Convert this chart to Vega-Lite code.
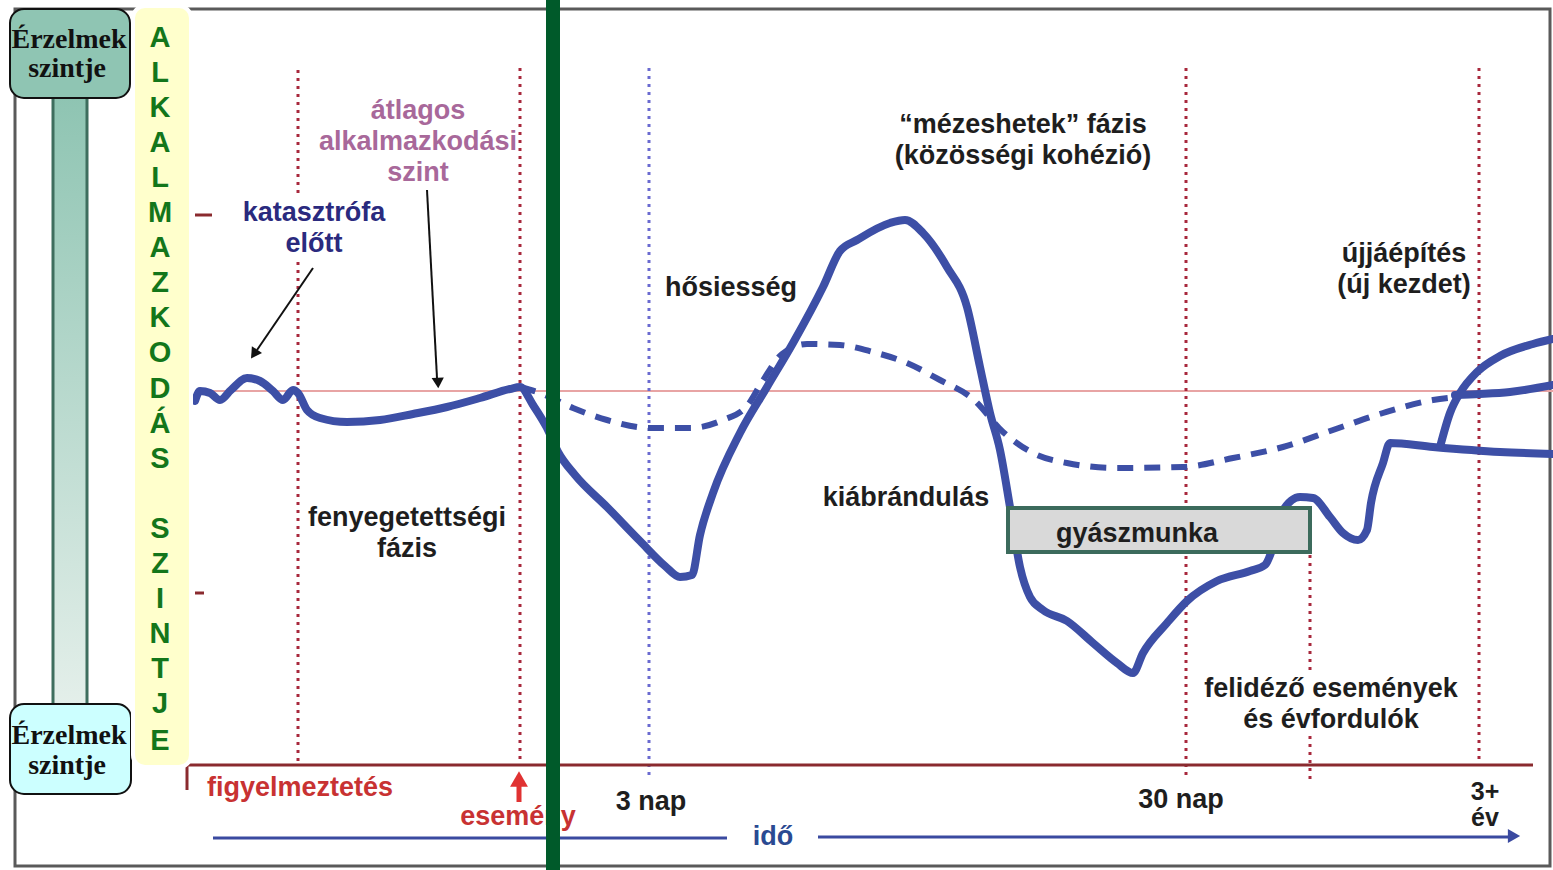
{
  "$schema": "https://vega.github.io/schema/vega-lite/v6.json",
  "width": 1553,
  "height": 870,
  "padding": 0,
  "autosize": "none",
  "background": "white",
  "config": {"view": {"stroke": null}},
  "encoding": {
    "x": {"field": "x", "type": "quantitative", "scale": {"domain": [0, 1553], "nice": false, "zero": false}, "axis": null},
    "y": {"field": "y", "type": "quantitative", "scale": {"domain": [0, 870], "nice": false, "zero": false, "reverse": true}, "axis": null}
  },
  "layer": [
    {
      "data": {"values": [{"x": 15, "x2": 1550, "y": 9, "y2": 866}]},
      "mark": {"type": "rect", "fill": null, "stroke": "#5a5a5a", "strokeWidth": 3},
      "encoding": {"x2": {"field": "x2"}, "y2": {"field": "y2"}}
    },
    {
      "data": {"values": [{"x": 195, "x2": 1553, "y": 391}]},
      "mark": {"type": "rule", "color": "#e8a4a4", "strokeWidth": 2},
      "encoding": {"x2": {"field": "x2"}}
    },
    {
      "data": {"values": [
        {"x": 298, "y": 70, "y2": 194},
        {"x": 298, "y": 262, "y2": 765},
        {"x": 520, "y": 68, "y2": 765},
        {"x": 1186, "y": 68, "y2": 775},
        {"x": 1310, "y": 555, "y2": 672},
        {"x": 1310, "y": 736, "y2": 780},
        {"x": 1479, "y": 68, "y2": 765}
      ]},
      "mark": {"type": "rule", "color": "#a8283c", "strokeWidth": 3, "strokeDash": [3, 5]},
      "encoding": {"y2": {"field": "y2"}}
    },
    {
      "data": {"values": [{"x": 649, "y": 68, "y2": 780}]},
      "mark": {"type": "rule", "color": "#6a6ad0", "strokeWidth": 3, "strokeDash": [3, 5]},
      "encoding": {"y2": {"field": "y2"}}
    },
    {
      "data": {"values": [
        {"x": 187, "x2": 1533, "y": 765, "y2": 765},
        {"x": 187, "x2": 187, "y": 765, "y2": 790},
        {"x": 195, "x2": 212, "y": 215, "y2": 215},
        {"x": 195, "x2": 204, "y": 593, "y2": 593}
      ]},
      "mark": {"type": "rule", "color": "#8a2a2e", "strokeWidth": 3},
      "encoding": {"x2": {"field": "x2"}, "y2": {"field": "y2"}}
    },
    {
      "data": {"values": [
        {"s": "dash", "i": 1, "x": 520, "y": 387},
        {"s": "dash", "i": 2, "x": 540, "y": 393},
        {"s": "dash", "i": 3, "x": 573, "y": 408},
        {"s": "dash", "i": 4, "x": 607, "y": 420},
        {"s": "dash", "i": 5, "x": 650, "y": 428},
        {"s": "dash", "i": 6, "x": 690, "y": 428},
        {"s": "dash", "i": 7, "x": 723, "y": 420},
        {"s": "dash", "i": 8, "x": 747, "y": 406},
        {"s": "dash", "i": 9, "x": 762, "y": 382},
        {"s": "dash", "i": 10, "x": 782, "y": 354},
        {"s": "dash", "i": 11, "x": 807, "y": 344},
        {"s": "dash", "i": 12, "x": 840, "y": 345},
        {"s": "dash", "i": 13, "x": 873, "y": 352},
        {"s": "dash", "i": 14, "x": 907, "y": 363},
        {"s": "dash", "i": 15, "x": 940, "y": 380},
        {"s": "dash", "i": 16, "x": 973, "y": 399},
        {"s": "dash", "i": 17, "x": 1003, "y": 432},
        {"s": "dash", "i": 18, "x": 1035, "y": 454},
        {"s": "dash", "i": 19, "x": 1067, "y": 463},
        {"s": "dash", "i": 20, "x": 1117, "y": 468},
        {"s": "dash", "i": 21, "x": 1183, "y": 467},
        {"s": "dash", "i": 22, "x": 1233, "y": 458},
        {"s": "dash", "i": 23, "x": 1283, "y": 447},
        {"s": "dash", "i": 24, "x": 1333, "y": 430},
        {"s": "dash", "i": 25, "x": 1383, "y": 413},
        {"s": "dash", "i": 26, "x": 1433, "y": 400},
        {"s": "dash", "i": 27, "x": 1457, "y": 397}
      ]},
      "mark": {"type": "line", "color": "#3d4fa6", "strokeWidth": 6, "strokeDash": [16, 11], "interpolate": "monotone"},
      "encoding": {"detail": {"field": "s"}, "order": {"field": "i", "type": "quantitative"}}
    },
    {
      "data": {"values": [
        {"s": "main", "i": 1, "x": 195, "y": 401},
        {"s": "main", "i": 2, "x": 200, "y": 391},
        {"s": "main", "i": 3, "x": 210, "y": 393},
        {"s": "main", "i": 4, "x": 220, "y": 400},
        {"s": "main", "i": 5, "x": 231, "y": 390},
        {"s": "main", "i": 6, "x": 247, "y": 378},
        {"s": "main", "i": 7, "x": 260, "y": 381},
        {"s": "main", "i": 8, "x": 273, "y": 391},
        {"s": "main", "i": 9, "x": 283, "y": 400},
        {"s": "main", "i": 10, "x": 293, "y": 390},
        {"s": "main", "i": 11, "x": 298, "y": 393},
        {"s": "main", "i": 12, "x": 307, "y": 410},
        {"s": "main", "i": 13, "x": 320, "y": 418},
        {"s": "main", "i": 14, "x": 347, "y": 422},
        {"s": "main", "i": 15, "x": 380, "y": 420},
        {"s": "main", "i": 16, "x": 413, "y": 414},
        {"s": "main", "i": 17, "x": 447, "y": 407},
        {"s": "main", "i": 18, "x": 480, "y": 398},
        {"s": "main", "i": 19, "x": 510, "y": 389},
        {"s": "main", "i": 20, "x": 520, "y": 387},
        {"s": "main", "i": 21, "x": 533, "y": 405},
        {"s": "main", "i": 22, "x": 547, "y": 428},
        {"s": "main", "i": 23, "x": 558, "y": 452},
        {"s": "main", "i": 24, "x": 575, "y": 475},
        {"s": "main", "i": 25, "x": 607, "y": 507},
        {"s": "main", "i": 26, "x": 640, "y": 541},
        {"s": "main", "i": 27, "x": 665, "y": 566},
        {"s": "main", "i": 28, "x": 680, "y": 577},
        {"s": "main", "i": 29, "x": 692, "y": 575},
        {"s": "main", "i": 30, "x": 700, "y": 535},
        {"s": "main", "i": 31, "x": 713, "y": 493},
        {"s": "main", "i": 32, "x": 740, "y": 433},
        {"s": "main", "i": 33, "x": 767, "y": 387},
        {"s": "main", "i": 34, "x": 793, "y": 343},
        {"s": "main", "i": 35, "x": 823, "y": 287},
        {"s": "main", "i": 36, "x": 840, "y": 251},
        {"s": "main", "i": 37, "x": 857, "y": 240},
        {"s": "main", "i": 38, "x": 890, "y": 223},
        {"s": "main", "i": 39, "x": 905, "y": 220},
        {"s": "main", "i": 40, "x": 923, "y": 233},
        {"s": "main", "i": 41, "x": 947, "y": 267},
        {"s": "main", "i": 42, "x": 967, "y": 307},
        {"s": "main", "i": 43, "x": 980, "y": 367},
        {"s": "main", "i": 44, "x": 990, "y": 413},
        {"s": "main", "i": 45, "x": 1000, "y": 450},
        {"s": "main", "i": 46, "x": 1010, "y": 507},
        {"s": "main", "i": 47, "x": 1020, "y": 567},
        {"s": "main", "i": 48, "x": 1030, "y": 597},
        {"s": "main", "i": 49, "x": 1043, "y": 610},
        {"s": "main", "i": 50, "x": 1067, "y": 621},
        {"s": "main", "i": 51, "x": 1093, "y": 643},
        {"s": "main", "i": 52, "x": 1117, "y": 663},
        {"s": "main", "i": 53, "x": 1133, "y": 673},
        {"s": "main", "i": 54, "x": 1143, "y": 653},
        {"s": "main", "i": 55, "x": 1167, "y": 623},
        {"s": "main", "i": 56, "x": 1187, "y": 601},
        {"s": "main", "i": 57, "x": 1217, "y": 581},
        {"s": "main", "i": 58, "x": 1250, "y": 571},
        {"s": "main", "i": 59, "x": 1265, "y": 565},
        {"s": "main", "i": 60, "x": 1273, "y": 547},
        {"s": "main", "i": 61, "x": 1282, "y": 512},
        {"s": "main", "i": 62, "x": 1300, "y": 497},
        {"s": "main", "i": 63, "x": 1313, "y": 498},
        {"s": "main", "i": 64, "x": 1330, "y": 517},
        {"s": "main", "i": 65, "x": 1343, "y": 533},
        {"s": "main", "i": 66, "x": 1358, "y": 540},
        {"s": "main", "i": 67, "x": 1367, "y": 530},
        {"s": "main", "i": 68, "x": 1371, "y": 503},
        {"s": "main", "i": 69, "x": 1383, "y": 463},
        {"s": "main", "i": 70, "x": 1390, "y": 443},
        {"s": "main", "i": 71, "x": 1433, "y": 447},
        {"s": "main", "i": 72, "x": 1500, "y": 452},
        {"s": "main", "i": 73, "x": 1553, "y": 454},
        {"s": "up", "i": 1, "x": 1440, "y": 447},
        {"s": "up", "i": 2, "x": 1450, "y": 413},
        {"s": "up", "i": 3, "x": 1460, "y": 393},
        {"s": "up", "i": 4, "x": 1477, "y": 372},
        {"s": "up", "i": 5, "x": 1500, "y": 356},
        {"s": "up", "i": 6, "x": 1533, "y": 344},
        {"s": "up", "i": 7, "x": 1553, "y": 339},
        {"s": "mid", "i": 1, "x": 1455, "y": 395},
        {"s": "mid", "i": 2, "x": 1480, "y": 394},
        {"s": "mid", "i": 3, "x": 1510, "y": 392},
        {"s": "mid", "i": 4, "x": 1553, "y": 385}
      ]},
      "mark": {"type": "line", "color": "#3d4fa6", "strokeWidth": 8, "interpolate": "monotone", "strokeCap": "round", "strokeJoin": "round"},
      "encoding": {"detail": {"field": "s"}, "order": {"field": "i", "type": "quantitative"}}
    },
    {
      "data": {"values": [
        {"x": 313, "y": 268, "x2": 257, "y2": 350},
        {"x": 427, "y": 190, "x2": 437, "y2": 378}
      ]},
      "mark": {"type": "rule", "color": "#111111", "strokeWidth": 2},
      "encoding": {"x2": {"field": "x2"}, "y2": {"field": "y2"}}
    },
    {
      "data": {"values": [{"x": 254, "y": 354}]},
      "mark": {"type": "point", "shape": "triangle-up", "filled": true, "color": "#111111", "opacity": 1, "size": 150, "angle": 214}
    },
    {
      "data": {"values": [{"x": 438, "y": 383}]},
      "mark": {"type": "point", "shape": "triangle-up", "filled": true, "color": "#111111", "opacity": 1, "size": 150, "angle": 177}
    },
    {
      "data": {"values": [{"x": 519, "y": 783, "y2": 802}]},
      "mark": {"type": "rule", "color": "#e03232", "strokeWidth": 5},
      "encoding": {"y2": {"field": "y2"}}
    },
    {
      "data": {"values": [{"x": 519, "y": 779}]},
      "mark": {"type": "point", "shape": "triangle-up", "filled": true, "color": "#e03232", "opacity": 1, "size": 320}
    },
    {
      "data": {"values": [
        {"x": 213, "x2": 727, "y": 838},
        {"x": 818, "x2": 1512, "y": 837}
      ]},
      "mark": {"type": "rule", "color": "#3a4aa0", "strokeWidth": 3},
      "encoding": {"x2": {"field": "x2"}}
    },
    {
      "data": {"values": [{"x": 1514, "y": 836}]},
      "mark": {"type": "point", "shape": "triangle-right", "filled": true, "color": "#3a4aa0", "opacity": 1, "size": 200}
    },
    {
      "data": {"values": [{"x": 1008, "x2": 1310, "y": 508, "y2": 552}]},
      "mark": {"type": "rect", "fill": "#d9d9d9", "stroke": "#3c6b5c", "strokeWidth": 4},
      "encoding": {"x2": {"field": "x2"}, "y2": {"field": "y2"}}
    },
    {
      "data": {"values": [
        {"x": 314, "y": 213, "t": "katasztrófa"},
        {"x": 314, "y": 244, "t": "előtt"}
      ]},
      "mark": {"type": "text", "font": "Liberation Sans", "fontWeight": "bold", "fontSize": 27, "color": "#2a2a7e", "align": "center", "baseline": "middle"},
      "encoding": {"text": {"field": "t"}}
    },
    {
      "data": {"values": [
        {"x": 418, "y": 111, "t": "átlagos"},
        {"x": 418, "y": 142, "t": "alkalmazkodási"},
        {"x": 418, "y": 173, "t": "szint"}
      ]},
      "mark": {"type": "text", "font": "Liberation Sans", "fontWeight": "bold", "fontSize": 27, "color": "#a8689a", "align": "center", "baseline": "middle"},
      "encoding": {"text": {"field": "t"}}
    },
    {
      "data": {"values": [
        {"x": 1023, "y": 125, "t": "\u201cmézeshetek\u201d fázis"},
        {"x": 1023, "y": 156, "t": "(közösségi kohézió)"},
        {"x": 731, "y": 288, "t": "hősiesség"},
        {"x": 1404, "y": 254, "t": "újjáépítés"},
        {"x": 1404, "y": 285, "t": "(új kezdet)"},
        {"x": 906, "y": 498, "t": "kiábrándulás"},
        {"x": 407, "y": 518, "t": "fenyegetettségi"},
        {"x": 407, "y": 549, "t": "fázis"},
        {"x": 1331, "y": 689, "t": "felidéző események"},
        {"x": 1331, "y": 720, "t": "és évfordulók"},
        {"x": 651, "y": 802, "t": "3 nap"},
        {"x": 1181, "y": 800, "t": "30 nap"},
        {"x": 1137, "y": 534, "t": "gyászmunka"}
      ]},
      "mark": {"type": "text", "font": "Liberation Sans", "fontWeight": "bold", "fontSize": 27, "color": "#1e1e1e", "align": "center", "baseline": "middle"},
      "encoding": {"text": {"field": "t"}}
    },
    {
      "data": {"values": [
        {"x": 1485, "y": 792, "t": "3+"},
        {"x": 1485, "y": 818, "t": "év"}
      ]},
      "mark": {"type": "text", "font": "Liberation Sans", "fontWeight": "bold", "fontSize": 25, "color": "#1e1e1e", "align": "center", "baseline": "middle"},
      "encoding": {"text": {"field": "t"}}
    },
    {
      "data": {"values": [
        {"x": 300, "y": 788, "t": "figyelmeztetés"},
        {"x": 518, "y": 817, "t": "esemény"}
      ]},
      "mark": {"type": "text", "font": "Liberation Sans", "fontWeight": "bold", "fontSize": 27, "color": "#c83232", "align": "center", "baseline": "middle"},
      "encoding": {"text": {"field": "t"}}
    },
    {
      "data": {"values": [{"x": 773, "y": 837, "t": "idő"}]},
      "mark": {"type": "text", "font": "Liberation Sans", "fontWeight": "bold", "fontSize": 27, "color": "#2a4a92", "align": "center", "baseline": "middle"},
      "encoding": {"text": {"field": "t"}}
    },
    {
      "data": {"values": [{"x": 53, "x2": 87, "y": 95, "y2": 706}]},
      "mark": {"type": "rect", "stroke": "#3e6e5e", "strokeWidth": 3,
        "fill": {"gradient": "linear", "x1": 0, "y1": 0, "x2": 0, "y2": 1, "stops": [{"offset": 0, "color": "#8ec4b2"}, {"offset": 1, "color": "#e4efea"}]}},
      "encoding": {"x2": {"field": "x2"}, "y2": {"field": "y2"}}
    },
    {
      "data": {"values": [{"x": 10, "x2": 130, "y": 9, "y2": 98}]},
      "mark": {"type": "rect", "fill": "#8fc5b3", "stroke": "#111111", "strokeWidth": 2, "cornerRadius": 14},
      "encoding": {"x2": {"field": "x2"}, "y2": {"field": "y2"}}
    },
    {
      "data": {"values": [{"x": 10, "x2": 131, "y": 704, "y2": 794}]},
      "mark": {"type": "rect", "fill": "#ccffff", "stroke": "#111111", "strokeWidth": 2, "cornerRadius": 14},
      "encoding": {"x2": {"field": "x2"}, "y2": {"field": "y2"}}
    },
    {
      "data": {"values": [
        {"x": 69, "y": 40, "t": "Érzelmek"},
        {"x": 67, "y": 69, "t": "szintje"},
        {"x": 69, "y": 736, "t": "Érzelmek"},
        {"x": 67, "y": 766, "t": "szintje"}
      ]},
      "mark": {"type": "text", "font": "Liberation Serif", "fontWeight": "bold", "fontSize": 28, "color": "#111111", "align": "center", "baseline": "middle"},
      "encoding": {"text": {"field": "t"}}
    },
    {
      "data": {"values": [{"x": 133, "x2": 191, "y": 6, "y2": 767}]},
      "mark": {"type": "rect", "fill": "#ffffcc", "stroke": "white", "strokeWidth": 4, "cornerRadius": 12},
      "encoding": {"x2": {"field": "x2"}, "y2": {"field": "y2"}}
    },
    {
      "data": {"values": [
        {"x": 160, "y": 38, "t": "A"},
        {"x": 160, "y": 73, "t": "L"},
        {"x": 160, "y": 108, "t": "K"},
        {"x": 160, "y": 143, "t": "A"},
        {"x": 160, "y": 178, "t": "L"},
        {"x": 160, "y": 213, "t": "M"},
        {"x": 160, "y": 248, "t": "A"},
        {"x": 160, "y": 283, "t": "Z"},
        {"x": 160, "y": 318, "t": "K"},
        {"x": 160, "y": 353, "t": "O"},
        {"x": 160, "y": 389, "t": "D"},
        {"x": 160, "y": 424, "t": "Á"},
        {"x": 160, "y": 459, "t": "S"},
        {"x": 160, "y": 529, "t": "S"},
        {"x": 160, "y": 564, "t": "Z"},
        {"x": 160, "y": 599, "t": "I"},
        {"x": 160, "y": 634, "t": "N"},
        {"x": 160, "y": 669, "t": "T"},
        {"x": 160, "y": 704, "t": "J"},
        {"x": 160, "y": 741, "t": "E"}
      ]},
      "mark": {"type": "text", "font": "Liberation Sans", "fontWeight": "bold", "fontSize": 29, "color": "#13761a", "align": "center", "baseline": "middle"},
      "encoding": {"text": {"field": "t"}}
    },
    {
      "data": {"values": [{"x": 553, "y": 0, "y2": 870}]},
      "mark": {"type": "rule", "color": "#005a2a", "strokeWidth": 14},
      "encoding": {"y2": {"field": "y2"}}
    }
  ]
}
